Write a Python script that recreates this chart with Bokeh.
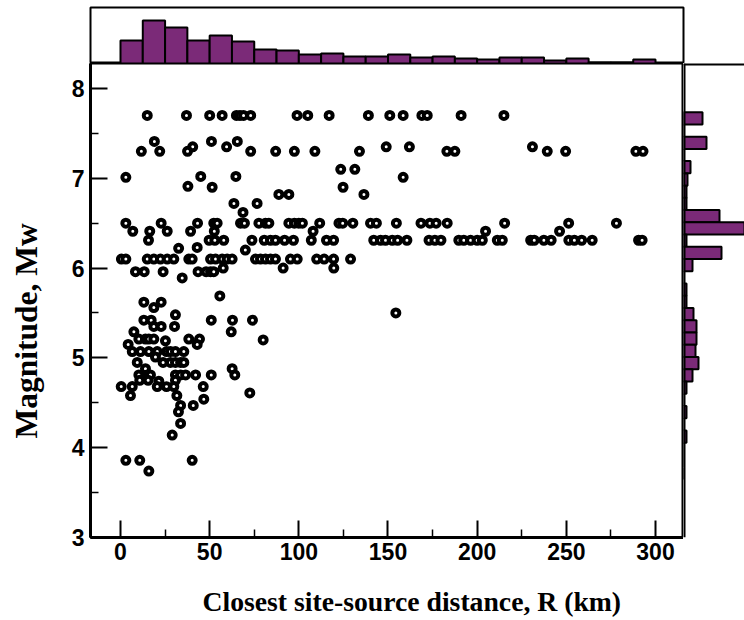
from bokeh.plotting import figure
from bokeh.layouts import column, row
from bokeh.models import Range1d, FixedTicker, Title, Span
from bokeh.embed import file_html
from bokeh.resources import INLINE

# ---------------- data ----------------
distance_km = [
    # Mw ~7.7
    15, 37, 50, 57, 65, 67, 69, 73, 99, 105, 117, 139, 151, 158.5, 169, 172, 191, 215,
    # Mw ~7.4 / 7.35
    19, 51, 65.5,
    40.5, 59.5, 149, 162, 231,
    # Mw ~7.3
    11.7, 22, 37.6, 73, 87, 97.5, 109, 134, 183, 187.5, 239.3, 249.6, 289, 293,
    # Mw ~7.1 / 7.0
    123.5, 131.4, 3, 45, 64.7, 158.5,
    # Mw ~6.9 / 6.8 / 6.7 / 6.6
    37.8, 51.4, 124.8, 88.8, 94.4, 136.5, 63.6, 76.6, 68.7,
    # Mw ~6.5
    3, 22.8, 43.2, 52.3, 54.2, 67.3, 69.5, 77.6, 81.3, 83.2, 94.4, 97.5, 100, 102,
    111.7, 122.5, 124.6, 130.3, 140.2, 143.5, 154.7, 168.5, 173.5, 177, 183.2, 215.4, 251.3, 278.1,
    # Mw ~6.4
    6.9, 16.4, 26.2, 39.3, 52.6, 108, 204.7, 246.2,
    # Mw ~6.3
    15.7, 49.7, 52.9, 57.9, 73.7, 80.6, 84.1, 86.9, 92, 97, 107, 115.5, 119.5,
    142, 145.8, 148.6, 152.4, 155.4, 160.6, 173, 176.3, 179.7, 189.7, 192.5, 196.3, 200,
    202.9, 211.3, 214.1, 230, 232, 237.4, 241.5, 251.4, 254.5, 258.6, 264.5, 290.5, 292.5,
    # Mw ~6.2
    32.6, 43, 70,
    # Mw ~6.1
    0.5, 3, 15, 18.7, 22.4, 26.2, 29.9, 38.3, 40.2, 50.5, 53.3, 57, 59.8, 62.6,
    75.7, 78.5, 81.3, 84.1, 86.9, 95.3, 99.1, 110, 114.2, 119.5, 129,
    # Mw ~6.0
    8.4, 13.3, 23.9, 43.5, 48, 50.5, 52.3, 57.6, 91.2, 119.6, 34.6,
    # Mw below 5.8
    55.7, 154.4,
    13.1, 22.8, 18.7, 30.8,
    13.1, 17.2, 50.9, 62.8, 74.0,
    18.7, 22.8, 30.3,
    7.5, 62.1,
    10.3, 14.0, 15.9, 18.7, 25.2, 38.3, 44.3, 80.0,
    4.3, 43.0,
    6.6, 11.2, 15.9, 20.6, 25.8, 28.0, 30.8, 35.5,
    19.6,
    9.4, 23.9, 28.0, 30.8, 33.7, 35.5,
    14.0, 62.6,
    10.3, 15.0, 16.8, 30.8, 33.7, 36.5, 42.1, 50.9, 64.1,
    10.8, 15.5, 21.5, 30.8,
    0.4, 6.6, 20.6, 25.8, 29.9, 46.4,
    72.5, 5.6, 31.6, 46.7,
    33.7, 40.8, 32.5, 33.7, 29.0,
    3.0, 10.8, 40.2, 15.9,
]

magnitude_mw = [
    7.7, 7.7, 7.7, 7.7, 7.7, 7.7, 7.7, 7.7, 7.7, 7.7, 7.7, 7.7, 7.7, 7.7, 7.7, 7.7, 7.7, 7.7,
    7.41, 7.41, 7.41,
    7.35, 7.35, 7.35, 7.35, 7.35,
    7.3, 7.3, 7.3, 7.3, 7.3, 7.3, 7.3, 7.3, 7.3, 7.3, 7.3, 7.3, 7.3, 7.3,
    7.1, 7.1, 7.01, 7.02, 7.02, 7.01,
    6.91, 6.9, 6.9, 6.82, 6.82, 6.82, 6.72, 6.72, 6.62,
    6.5, 6.5, 6.5, 6.5, 6.5, 6.5, 6.5, 6.5, 6.5, 6.5, 6.5, 6.5, 6.5, 6.5,
    6.5, 6.5, 6.5, 6.5, 6.5, 6.5, 6.5, 6.5, 6.5, 6.5, 6.5, 6.5, 6.5, 6.5,
    6.41, 6.41, 6.41, 6.41, 6.41, 6.41, 6.41, 6.41,
    6.31, 6.31, 6.31, 6.31, 6.31, 6.31, 6.31, 6.31, 6.31, 6.31, 6.31, 6.31, 6.31,
    6.31, 6.31, 6.31, 6.31, 6.31, 6.31, 6.31, 6.31, 6.31, 6.31, 6.31, 6.31, 6.31,
    6.31, 6.31, 6.31, 6.31, 6.31, 6.31, 6.31, 6.31, 6.31, 6.31, 6.31, 6.31, 6.31,
    6.22, 6.23, 6.2,
    6.1, 6.1, 6.1, 6.1, 6.1, 6.1, 6.1, 6.1, 6.1, 6.1, 6.1, 6.1, 6.1, 6.1,
    6.1, 6.1, 6.1, 6.1, 6.1, 6.1, 6.1, 6.1, 6.1, 6.1, 6.1,
    5.96, 5.96, 5.96, 5.96, 5.96, 5.96, 5.96, 6.0, 6.0, 6.0, 5.89,
    5.69, 5.50,
    5.62, 5.62, 5.56, 5.48,
    5.42, 5.42, 5.42, 5.42, 5.42,
    5.35, 5.35, 5.35,
    5.29, 5.29,
    5.21, 5.21, 5.21, 5.21, 5.19, 5.21, 5.21, 5.20,
    5.15, 5.15,
    5.07, 5.07, 5.07, 5.07, 5.07, 5.07, 5.07, 5.07,
    5.01,
    4.95, 4.95, 4.95, 4.95, 4.95, 4.95,
    4.88, 4.88,
    4.81, 4.81, 4.81, 4.81, 4.81, 4.81, 4.81, 4.81, 4.81,
    4.75, 4.75, 4.74, 4.75,
    4.68, 4.68, 4.68, 4.68, 4.68, 4.68,
    4.61, 4.58, 4.58, 4.54,
    4.47, 4.47, 4.40, 4.27, 4.14,
    3.86, 3.86, 3.86, 3.74,
]
assert len(distance_km) == len(magnitude_mw)

# distance histogram (top): bin left edges (km) and counts
dist_bin_left = [0, 12.5, 25, 37.5, 50, 62.5, 75, 87.5, 100, 112.5, 125, 137.5,
                 150, 162.5, 175, 187.5, 200, 212.5, 225, 237.5, 250, 262.5, 275, 287.5]
dist_counts = [23, 43, 36, 23, 28, 22, 14, 13, 9, 10, 7, 7,
               9, 6, 7, 5, 4, 6, 6, 3, 5, 1, 1, 4]
dist_bin_width = 12.5

# magnitude histogram (right): bin upper edges and counts
mag_bin_top = [7.736, 7.600, 7.463, 7.327, 7.191, 7.054, 6.918, 6.782, 6.646, 6.509,
               6.373, 6.237, 6.100, 5.964, 5.828, 5.692, 5.555, 5.419, 5.283, 5.146,
               5.010, 4.874, 4.737, 4.601, 4.465, 4.329, 4.192, 4.056, 3.920, 3.783]
mag_counts = [19, 0, 23, 0, 7, 4, 3, 3, 36, 66,
              3, 38, 9, 0, 3, 3, 10, 13, 13, 12,
              15, 9, 3, 0, 3, 0, 3, 0, 0, 0]
mag_bin_width = 0.1363

x_major = [0, 50, 100, 150, 200, 250, 300]
x_minor = [25, 75, 125, 175, 225, 275]
y_major = [3, 4, 5, 6, 7, 8]
y_minor = [3.5, 4.5, 5.5, 6.5, 7.5]

x_title = "Closest site-source distance, R (km)"
y_title = "Magnitude, Mw"

PURPLE = "#7b2a78"
SANS = "Liberation Sans"
SERIF = "Liberation Serif"

xr = Range1d(-16.82, 315.7)
yr = Range1d(3.0, 8.278)

ROW_H = 509
YLAB_W = 52
RIGHT_W = 61
MAIN_W = 744 - YLAB_W - RIGHT_W


def bare(width, height, **kw):
    f = figure(width=width, height=height, output_backend="svg", toolbar_location=None,
               x_axis_location=None, y_axis_location=None, **kw)
    f.grid.visible = False
    f.border_fill_color = "white"
    f.background_fill_color = "white"
    f.outline_line_color = None
    return f


# ---------------- main scatter ----------------
main = figure(width=MAIN_W, height=ROW_H, x_range=xr, y_range=yr,
              output_backend="svg", toolbar_location=None,
              min_border_left=MAIN_W - 593, min_border_right=0,
              min_border_top=0, min_border_bottom=35)
main.grid.visible = False
main.outline_line_color = "black"
main.outline_line_width = 2
main.background_fill_color = "white"
main.border_fill_color = "white"

main.scatter(distance_km, magnitude_mw, marker="circle", size=7,
             fill_color="white", line_color="black", line_width=4)

for ax in (main.xaxis[0], main.yaxis[0]):
    ax.axis_line_width = 3
    ax.axis_line_color = "black"
    ax.major_tick_in = 17
    ax.major_tick_out = 0
    ax.minor_tick_in = 8
    ax.minor_tick_out = 0
    ax.major_tick_line_width = 2
    ax.minor_tick_line_width = 1.5
    ax.major_tick_line_color = "black"
    ax.minor_tick_line_color = "black"
    ax.major_label_text_font = SANS
    ax.major_label_text_font_style = "bold"
    ax.major_label_text_font_size = "23px"
    ax.major_label_text_color = "black"

main.xaxis[0].ticker = FixedTicker(ticks=x_major, minor_ticks=x_minor)
main.yaxis[0].ticker = FixedTicker(ticks=y_major, minor_ticks=y_minor)
main.xaxis[0].major_label_standoff = 5
main.yaxis[0].major_label_standoff = 6

# ---------------- y-axis title strip ----------------
ylab = bare(YLAB_W, ROW_H, x_range=Range1d(0, 1), y_range=Range1d(0, 1),
            min_border_left=0, min_border_right=0, min_border_top=0, min_border_bottom=0)
ylab.add_layout(Title(text=y_title, align="left", offset=99, standoff=12,
                      vertical_align="bottom",
                      text_font=SERIF, text_font_style="bold", text_font_size="31.5px",
                      text_color="black"), "left")

# ---------------- x-axis title strip ----------------
xlab = bare(744, 48, x_range=Range1d(0, 1), y_range=Range1d(0, 1),
            min_border_left=0, min_border_right=0, min_border_top=0, min_border_bottom=0)
xlab.add_layout(Title(text=x_title, align="left", offset=112, standoff=8,
                      vertical_align="bottom",
                      text_font=SERIF, text_font_style="bold", text_font_size="27.7px",
                      text_color="black"), "below")

# ---------------- top histogram ----------------
top = bare(685, 63, x_range=xr, y_range=Range1d(0, 56),
           min_border_left=90, min_border_right=2, min_border_top=7, min_border_bottom=0)
top.outline_line_color = "black"
top.outline_line_width = 2
dist_centers = [b + dist_bin_width / 2 for b in dist_bin_left]
top.vbar(x=dist_centers, top=dist_counts, width=dist_bin_width, bottom=0,
         fill_color=PURPLE, line_color="black", line_width=2)

# ---------------- right histogram ----------------
right = bare(RIGHT_W, ROW_H, x_range=Range1d(0, 61), y_range=yr,
             min_border_left=0, min_border_right=0, min_border_top=0, min_border_bottom=35)
mag_centers = [t - mag_bin_width / 2 for t in mag_bin_top]
right.hbar(y=mag_centers, right=mag_counts, left=0, height=mag_bin_width,
           fill_color=PURPLE, line_color="black", line_width=2)
right.add_layout(Span(location=0, dimension="height", line_color="black", line_width=4))
right.add_layout(Span(location=yr.end, dimension="width", line_color="black", line_width=4))

layout = column(top, row(ylab, main, right, spacing=0), xlab, spacing=0)

open("out.html", "w").write(file_html(layout, INLINE))
